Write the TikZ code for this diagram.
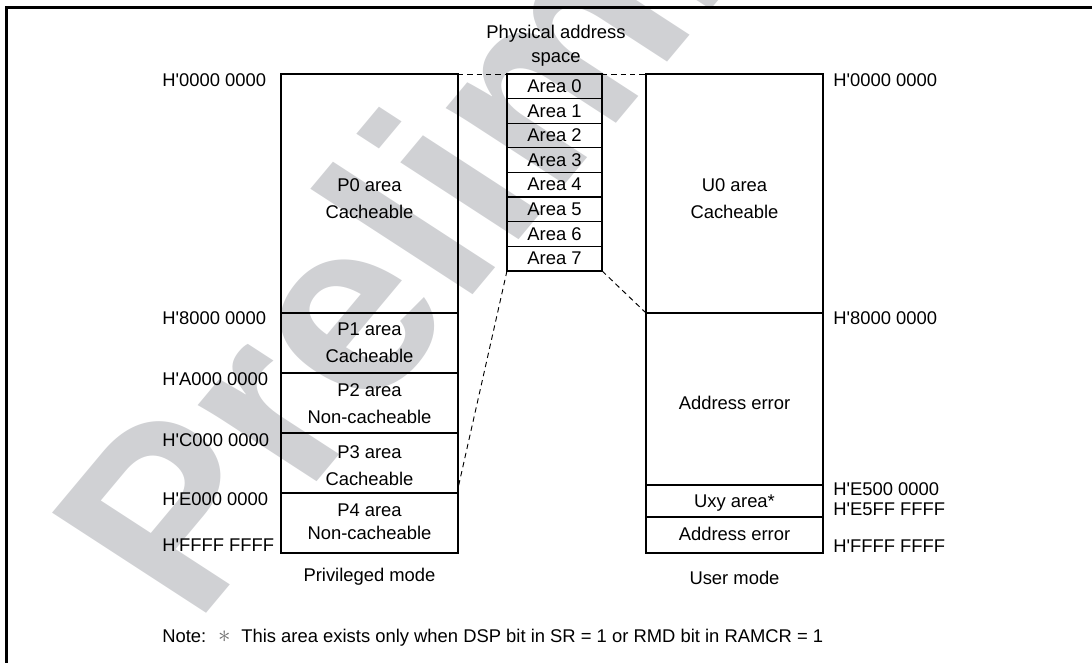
\documentclass[tikz,border=0pt]{standalone}
\usepackage{fontspec}
\setmainfont{Liberation Sans}
\definecolor{wmgray}{RGB}{208,209,212}
\definecolor{notegray}{RGB}{110,110,110}
\newcommand{\hq}{\textquotesingle}
\tikzset{
  seg/.style={draw, line width=0.8pt, inner sep=0pt, outer sep=0pt},
  txt/.style={font=\fontsize{13.8}{20.25}\selectfont, align=center, inner sep=0pt},
  txtb/.style={font=\fontsize{13.8}{17.25}\selectfont, align=center, inner sep=0pt},
  addr/.style={font=\fontsize{13.8}{16}\selectfont, inner sep=0pt, anchor=west},
  outerbox/.style={line width=1.6pt},
  conn/.style={line width=0.7pt, dash pattern=on 4pt off 3pt},
  wide/.style={minimum width=132.75pt},
  narrow/.style={minimum width=71.25pt},
}
\begin{document}
\begin{tikzpicture}[x=0.75pt,y=-0.75pt]
\useasboundingbox (0,0) rectangle (1092,662);
\clip (0,0) rectangle (1092,662);
% watermark
\begin{scope}[shift={(195,627)}, xscale=1.134, rotate=53.6]
\node[transform shape, text=wmgray, font=\fontsize{184}{184}\selectfont\bfseries, inner sep=0pt, anchor=base west] (wmk) at (0,0) {Preliminary};
\end{scope}
% frame
\draw[line width=1.8pt] (6.5,1000) |- (1200,7.3);
% privileged mode column
\node[seg, wide, minimum height=179.25pt] (p0) at (369.5,193.5) {};
\node[seg, wide, minimum height=45pt] (p1) at (369.5,343) {};
\node[seg, wide, minimum height=45pt] (p2) at (369.5,403) {};
\node[seg, wide, minimum height=45pt] (p3) at (369.5,463) {};
\node[seg, wide, minimum height=45pt] (p4) at (369.5,523) {};
\draw[outerbox] (p0.north west) rectangle (p4.south east);
\node[txt] (p0t) at (369.5,198.5) {P0 area\\Cacheable};
\node[txt] (p1t) at (369.5,342.5) {P1 area\\Cacheable};
\node[txt] (p2t) at (369.5,404) {P2 area\\Non-cacheable};
\node[txt] (p3t) at (369.5,465.5) {P3 area\\Cacheable};
\node[txtb] (p4t) at (369.5,521.5) {P4 area\\Non-cacheable};
\node[txt] (pm) at (369.5,577) {Privileged mode};
% physical areas
\foreach \i in {0,...,7} {
  \node[seg, narrow, minimum height=18.45pt, font=\fontsize{13.8}{16}\selectfont] (a\i) at (554.5,{86.3+24.6*\i}) {Area \i};
}
\draw[outerbox] (a0.north west) rectangle (a7.south east);
\node[font=\fontsize{13.8}{18}\selectfont, align=center, inner sep=0pt] (pas) at (556,46) {Physical address\\space};
% user mode column
\node[seg, wide, minimum height=179.25pt] (u0) at (734.5,193.5) {};
\node[seg, wide, minimum height=129pt] (ue) at (734.5,399) {};
\node[seg, wide, minimum height=24pt] (ux) at (734.5,501) {};
\node[seg, wide, minimum height=27pt] (ue2) at (734.5,535) {};
\draw[outerbox] (u0.north west) rectangle (ue2.south east);
\node[txt] (u0t) at (734.5,198.5) {U0 area\\Cacheable};
\node[txt] (uet) at (734.5,403) {Address error};
\node[txt] (uxt) at (734.5,503) {Uxy area*};
\node[txt] (ue2t) at (734.5,534) {Address error};
\node[txt] (um) at (734.5,578) {User mode};
% dashed connectors
\draw[conn] (p0.north east) -- (a0.north west);
\draw[conn] (a0.north east) -- (u0.north west);
\draw[conn] (a7.south west) -- ([yshift=3.5pt]p3.south east);
\draw[conn] (a7.south east) -- (u0.south west);
% left addresses
\node[addr] (l0) at (162,80) {H\hq0000 0000};
\node[addr] (l8) at (162,318) {H\hq8000 0000};
\node[addr] (la) at (162,379) {H\hq A000 0000};
\node[addr] (lc) at (162,440) {H\hq C000 0000};
\node[addr] (le) at (162,499) {H\hq E000 0000};
\node[addr] (lf) at (162,545) {H\hq FFFF FFFF};
% right addresses
\node[addr] (r0) at (833,80) {H\hq0000 0000};
\node[addr] (r8) at (833,318) {H\hq8000 0000};
\node[addr] (r5) at (833,489) {H\hq E500 0000};
\node[addr] (r5f) at (833,509) {H\hq E5FF FFFF};
\node[addr] (rf) at (833,546) {H\hq FFFF FFFF};
% note
\node[addr] (note) at (162,638) {Note:\hspace{9pt}{\color{notegray}\scalebox{1.3}{$\ast$}}\hspace{8pt}This area exists only when DSP bit in SR = 1 or RMD bit in RAMCR = 1};
\end{tikzpicture}
\end{document}
